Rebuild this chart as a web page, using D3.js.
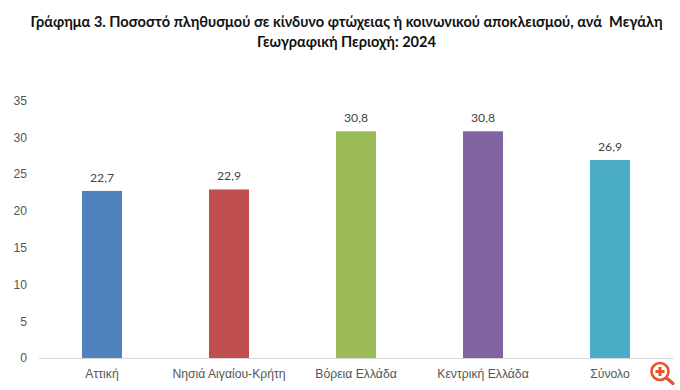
<!DOCTYPE html>
<html>
<head>
<meta charset="utf-8">
<script src="https://cdn.jsdelivr.net/npm/d3@7"></script>
<style>
  html, body { margin: 0; padding: 0; background: #fff; }
  svg { display: block; font-family: Lato, "Open Sans", sans-serif; }
</style>
</head>
<body>
<svg width="680" height="390"></svg>
<script>
var categories = ["Αττική", "Νησιά Αιγαίου-Κρήτη", "Βόρεια Ελλάδα", "Κεντρική Ελλάδα", "Σύνολο"];
var values = [22.7, 22.9, 30.8, 30.8, 26.9];
var colors = ["#4f81bd", "#c0504d", "#9bbb59", "#8064a2", "#4bacc6"];
var yTicks = [0, 5, 10, 15, 20, 25, 30, 35];
var titleLines = [
  "Γράφημα 3. Ποσοστό πληθυσμού σε κίνδυνο φτώχειας ή κοινωνικού αποκλεισμού, ανά  Μεγάλη",
  "Γεωγραφική Περιοχή: 2024"
];

var svg = d3.select("svg");
var comma = function(v) { return d3.format(".1f")(v).replace(".", ","); };

var xScale = d3.scaleBand().domain(categories).range([38.5, 673.5]).paddingInner(0.685).paddingOuter(0.3425);
var yScale = d3.scaleLinear().domain([0, 35]).range([358, 100.4]);

// title
svg.selectAll(".title")
  .data(titleLines)
  .enter().append("text")
  .attr("class", "title")
  .attr("x", 346.5)
  .attr("y", function(d, i) { return 27 + i * 20; })
  .attr("text-anchor", "middle")
  .attr("xml:space", "preserve")
  .style("white-space", "pre")
  .attr("font-size", 14.55)
  .attr("font-weight", 700)
  .attr("fill", "#111")
  .text(function(d) { return d; });

// bars
svg.selectAll(".bar")
  .data(values)
  .enter().append("rect")
  .attr("class", "bar")
  .attr("x", function(d, i) { return xScale(categories[i]); })
  .attr("y", function(d) { return yScale(d); })
  .attr("width", xScale.bandwidth())
  .attr("height", function(d) { return yScale(0) - yScale(d); })
  .attr("fill", function(d, i) { return colors[i]; });

// value labels
svg.selectAll(".val")
  .data(values)
  .enter().append("text")
  .attr("class", "val")
  .attr("x", function(d, i) { return xScale(categories[i]) + xScale.bandwidth() / 2; })
  .attr("y", function(d) { return yScale(d) - 9; })
  .attr("text-anchor", "middle")
  .attr("font-size", 12.2)
  .attr("fill", "#444")
  .text(comma);

// axes
var xAxis = svg.append("g")
  .attr("transform", "translate(0," + yScale(0) + ")")
  .call(d3.axisBottom(xScale).tickSize(0).tickPadding(11.5));
xAxis.select(".domain").attr("stroke", "#d9d9d9");
xAxis.selectAll("text").attr("font-size", 12.2).attr("font-family", "inherit").attr("fill", "#555");

var yAxis = svg.append("g")
  .attr("transform", "translate(27,0)")
  .call(d3.axisLeft(yScale).tickValues(yTicks).tickSize(0).tickPadding(0));
yAxis.select(".domain").remove();
yAxis.selectAll("text").attr("font-size", 12.2).attr("font-family", "inherit").attr("fill", "#555");

// zoom icon in the corner
var icon = svg.append("g").attr("transform", "translate(660,371.5)");
icon.append("circle").attr("r", 8.5).attr("fill", "none").attr("stroke", "#e8532b").attr("stroke-width", 2.6);
icon.append("path").attr("d", "M6.5,6.5L13,12").attr("stroke", "#e8532b").attr("stroke-width", 3.4).attr("stroke-linecap", "round");
icon.append("path").attr("d", "M-4.5,0H4.5M0,-4.5V4.5").attr("stroke", "#e8532b").attr("stroke-width", 3);
</script>
</body>
</html>
